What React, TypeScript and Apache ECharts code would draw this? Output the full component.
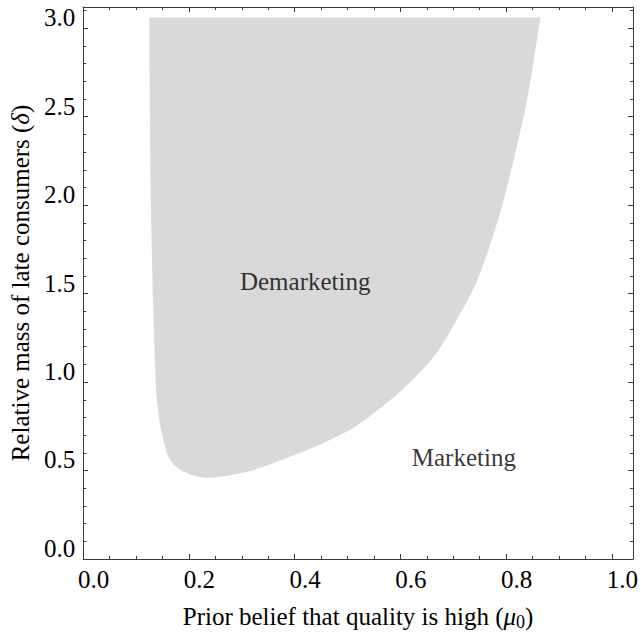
import React, { useEffect, useRef } from "react";
import * as echarts from "echarts";

// Boundary of the "Demarketing" region (mu0, delta), clockwise from top-left
const regionX = [
  0.105, 0.845, 0.82, 0.799, 0.767, 0.724, 0.677, 0.654, 0.632, 0.605, 0.575, 0.541, 0.511, 0.479, 0.44, 0.401,
  0.363, 0.327, 0.292, 0.256, 0.216, 0.188, 0.166, 0.151, 0.141, 0.134, 0.127, 0.122, 0.118, 0.115, 0.112, 0.108,
  0.106, 0.105,
];
const regionY = [
  3.0, 3.0, 2.538, 2.256, 1.878, 1.506, 1.241, 1.128, 1.043, 0.959, 0.874, 0.79, 0.722, 0.66, 0.603, 0.553,
  0.508, 0.468, 0.434, 0.412, 0.399, 0.412, 0.44, 0.474, 0.519, 0.586, 0.677, 0.773, 0.902, 1.128, 1.41, 1.974,
  2.538, 3.0,
];

// Region labels
const labelTexts = ["Demarketing", "Marketing"];
const labelX = [0.4, 0.7];
const labelY = [1.5, 0.5];

// Axis settings and tick labels
const xMin = -0.02;
const xMax = 1.02;
const xStep = 0.2;
const xTickValues = [0, 0.2, 0.4, 0.6, 0.8, 1.0];
const yMin = -0.06;
const yMax = 3.06;
const yStep = 0.5;
const yTickValues = [0, 0.5, 1.0, 1.5, 2.0, 2.5, 3.0];

const xTitle = "{n|Prior belief that quality is high (}{i|μ}{s|0}{n|)}";
const yTitle = "{n|Relative mass of late consumers (}{i|δ}{n|)}";

const FONT = "Liberation Serif";
const FRAME = "#3a3a3a";

const richTitle = {
  n: { fontFamily: FONT, fontSize: 25, color: "#000", lineHeight: 30 },
  i: { fontFamily: FONT, fontSize: 25, color: "#000", fontStyle: "italic", lineHeight: 30 },
  s: { fontFamily: FONT, fontSize: 18, color: "#000", lineHeight: 18, verticalAlign: "bottom" },
};

function makeAxis(
  min: number,
  max: number,
  step: number,
  split: number,
  position: string,
  showLabels: boolean,
  labelValues: number[],
  extra: any
) {
  return {
    type: "value",
    position,
    min,
    max,
    interval: step,
    axisLine: { show: true, onZero: false, lineStyle: { color: FRAME, width: 1 } },
    axisTick: { show: true, inside: true, length: 5, lineStyle: { color: FRAME, width: 1 } },
    minorTick: { show: true, splitNumber: split, length: 3, lineStyle: { color: FRAME, width: 1 } },
    splitLine: { show: false },
    minorSplitLine: { show: false },
    axisLabel: {
      show: showLabels,
      customValues: labelValues,
      formatter: (v: any) => {
        const n = Number(v);
        const k = Math.round(n / step);
        return Math.abs(n - k * step) < 1e-6 ? (k * step).toFixed(1) : "";
      },
      fontFamily: FONT,
      fontSize: 25,
      color: "#000",
      margin: 8,
    },
    ...extra,
  };
}

export default function App() {
  const ref = useRef<HTMLDivElement>(null);

  useEffect(() => {
    document.body.style.margin = "0";
    if (!ref.current) return;
    const chart = echarts.init(ref.current, null, { renderer: "svg" });

    const regionData = regionX.map((x, i) => [x, regionY[i]]);
    const labelData = labelTexts.map((t, i) => [labelX[i], labelY[i], t]);

    chart.setOption({
      animation: false,
      backgroundColor: "#fff",
      grid: { left: 81, right: 6, top: 7, bottom: 75, containLabel: false },
      xAxis: [
        makeAxis(xMin, xMax, xStep, 4, "bottom", true, xTickValues, {
          name: xTitle,
          nameLocation: "middle",
          nameGap: 42,
          nameTextStyle: { rich: richTitle, fontFamily: FONT, fontSize: 25 },
        }),
        makeAxis(xMin, xMax, xStep, 4, "top", false, xTickValues, {}),
      ],
      yAxis: [
        makeAxis(yMin, yMax, yStep, 5, "left", true, yTickValues, {
          name: yTitle,
          nameLocation: "middle",
          nameGap: 37,
          nameTextStyle: { rich: richTitle, fontFamily: FONT, fontSize: 25 },
        }),
        makeAxis(yMin, yMax, yStep, 5, "right", false, yTickValues, {}),
      ],
      series: [
        {
          type: "custom",
          xAxisIndex: 0,
          yAxisIndex: 0,
          silent: true,
          data: regionData,
          encode: { x: 0, y: 1 },
          renderItem: (params: any, api: any) => {
            if (params.dataIndex !== 0) return null;
            const pts = regionData.map((p) => api.coord(p));
            // duplicate the two top corners so the smoothed outline keeps them sharp
            const last = pts.length - 1;
            const outline = [pts[0], pts[0], pts[1], ...pts.slice(1, last)];
            return {
              type: "polygon",
              shape: { points: outline, smooth: 0.3 },
              style: { fill: "#d9d9d9", stroke: "none" },
            };
          },
          z: 1,
        },
        {
          type: "scatter",
          xAxisIndex: 0,
          yAxisIndex: 0,
          silent: true,
          symbolSize: 0,
          data: labelData,
          label: {
            show: true,
            position: "inside",
            offset: [0, -2],
            formatter: (p: any) => p.data[2],
            fontFamily: FONT,
            fontSize: 25,
            color: "#000",
          },
          z: 5,
        },
      ],
    });

    return () => chart.dispose();
  }, []);

  return <div ref={ref} style={{ width: 641, height: 636 }} />;
}
